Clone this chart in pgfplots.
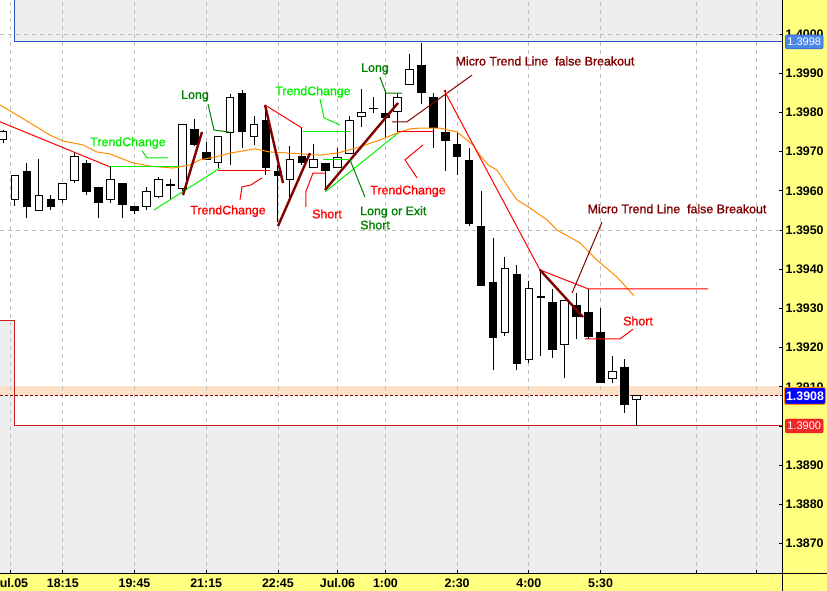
\documentclass[border=0pt]{standalone}
\usepackage{pgfplots}
\pgfplotsset{compat=1.18}
\usepackage{pgfplotstable}
\usepackage{fontspec}
\setmainfont{Liberation Sans}
\newfontfamily\annfont{Liberation Sans}[FakeBold=1.2]

\definecolor{stripyellow}{RGB}{255,255,128}
\definecolor{zonegray}{RGB}{238,238,238}
\definecolor{peach}{RGB}{252,224,200}
\definecolor{lime}{RGB}{0,240,0}
\definecolor{dkgreen}{RGB}{0,128,0}
\definecolor{maroon}{RGB}{128,0,0}
\definecolor{mared}{RGB}{255,0,0}
\definecolor{maorange}{RGB}{255,140,0}
\definecolor{zoneblue}{RGB}{40,80,200}
\definecolor{zonered}{RGB}{200,30,30}
\definecolor{gridgray}{RGB}{190,190,190}
\definecolor{boxblue}{RGB}{74,134,232}
\definecolor{boxred}{RGB}{240,40,40}
\newcommand\lbl{\fontsize{12.4}{14}\selectfont}

\pgfplotsset{
  layers/chart/.define layer set={
    strips, axis background, axis grid, axis ticks, axis lines, axis tick labels,
    pre main, main, axis descriptions, axis foreground
  }{},
}

% 15 min candles, x = bar number (0 = 18:15)
\pgfplotstableread{
x o h l c
-5 1.39730 1.39755 1.39722 1.39750
-4 1.39579 1.39640 1.39561 1.39640
-2 1.39551 1.39681 1.39548 1.39589
0 1.39579 1.39620 1.39569 1.39620
1 1.39628 1.39699 1.39620 1.39689
4 1.39579 1.39661 1.39569 1.39630
7 1.39561 1.39610 1.39551 1.39599
8 1.39587 1.39635 1.39582 1.39630
10 1.39607 1.39770 1.39599 1.39770
13 1.39673 1.39740 1.39658 1.39740
14 1.39750 1.39847 1.39666 1.39839
16 1.39740 1.39791 1.39717 1.39770
19 1.39630 1.39714 1.39584 1.39681
21 1.39661 1.39719 1.39661 1.39681
23 1.39661 1.39709 1.39661 1.39686
24 1.39696 1.39791 1.39696 1.39781
25 1.39791 1.39860 1.39763 1.39801
28 1.39801 1.39849 1.39750 1.39839
29 1.39872 1.39949 1.39872 1.39911
37 1.39240 1.39431 1.39230 1.39401
39 1.39171 1.39370 1.39161 1.39350
42 1.39209 1.39319 1.39122 1.39319
46 1.39120 1.39179 1.39110 1.39140
48 1.39069 1.39079 1.39000 1.39079
}\bull

\pgfplotstableread{
x o h l c
-3 1.39651 1.39671 1.39531 1.39559
-1 1.39579 1.39589 1.39551 1.39559
2 1.39671 1.39679 1.39589 1.39597
3 1.39610 1.39610 1.39531 1.39569
5 1.39620 1.39620 1.39531 1.39566
6 1.39561 1.39561 1.39541 1.39548
9 1.39618 1.39630 1.39579 1.39615
11 1.39760 1.39783 1.39714 1.39719
12 1.39699 1.39724 1.39679 1.39679
15 1.39849 1.39857 1.39709 1.39750
17 1.39781 1.39816 1.39640 1.39658
18 1.39651 1.39666 1.39520 1.39638
20 1.39689 1.39760 1.39666 1.39671
22 1.39671 1.39671 1.39605 1.39651
26 1.39812 1.39839 1.39798 1.39809
27 1.39801 1.39857 1.39737 1.39788
30 1.39921 1.39977 1.39821 1.39849
31 1.39839 1.39849 1.39709 1.39760
32 1.39750 1.39857 1.39651 1.39727
33 1.39719 1.39747 1.39640 1.39686
34 1.39681 1.39709 1.39510 1.39518
35 1.39510 1.39599 1.39357 1.39357
36 1.39370 1.39480 1.39143 1.39227
38 1.39390 1.39411 1.39143 1.39158
40 1.39331 1.39401 1.39179 1.39328
41 1.39319 1.39350 1.39173 1.39196
43 1.39309 1.39339 1.39222 1.39278
44 1.39291 1.39350 1.39222 1.39227
45 1.39240 1.39301 1.39110 1.39110
47 1.39151 1.39171 1.39033 1.39056
}\bear

\pgfplotstableread{
x y
-5.255 1.39819
-3.163 1.39781
-1.071 1.39742
0.017 1.39727
1.690 1.39717
2.862 1.39699
3.950 1.39694
5.874 1.39671
7.297 1.39663
9.222 1.39658
10.644 1.39666
11.481 1.39679
12.736 1.39686
13.992 1.39696
16.084 1.39707
17.339 1.39699
19.013 1.39696
21.523 1.39691
22.946 1.39696
24.870 1.39712
26.544 1.39730
27.967 1.39747
29.054 1.39758
29.891 1.39760
31.565 1.39760
32.987 1.39750
34.326 1.39717
34.910 1.39691
35.580 1.39666
36.330 1.39653
37.420 1.39602
38.008 1.39577
39.096 1.39556
40.519 1.39526
41.356 1.39500
43.280 1.39467
44.703 1.39423
46.377 1.39380
47.799 1.39332
}\ma

\begin{document}
\begin{tikzpicture}[x=1pt,y=1pt]
\begin{axis}[
  at={(0pt,17pt)}, anchor=south west,
  scale only axis, width=782.5pt, height=574pt,
  xmin=-5.255, xmax=60.226, ymin=1.3862245, ymax=1.4008673,
  set layers=chart, clip mode=individual,
  axis x line*=bottom, axis y line*=right,
  axis line style={black, line width=1pt},
  tick align=inside, major tick length=4pt,
  tick style={black, line width=0.8pt},
  xtick={-4.377,0,6,12,18,22.99,27,33,39,45,53,58},
  xticklabels={Jul.05,18:15,19:45,21:15,22:45,Jul.06,1:00,2:30,4:00,5:30,{},{}},
  xmajorgrids,
  grid style={gridgray, dash pattern=on 4pt off 4pt, line width=0.8pt},
  ytick={1.387,1.388,1.389,1.390,1.391,1.392,1.393,1.394,1.395,1.396,1.397,1.398,1.399,1.400},
  scaled y ticks=false,
  ticklabel style={font=\bfseries\lbl, inner sep=0pt},
  yticklabel style={/pgf/number format/fixed, /pgf/number format/fixed zerofill,
    /pgf/number format/precision=4, /pgf/number format/assume math mode=true, xshift=3pt},
  xticklabel style={yshift=-4.5pt},
  extra y ticks={1.395,1.400}, extra y tick labels={},
  extra y tick style={grid=major, major tick length=0pt},
]
% yellow scale strips, under everything
\pgfplotsonlayer{strips}
\fill[stripyellow] (rel axis cs:1,-0.0297) rectangle (rel axis cs:1.057,1);
\fill[stripyellow] (rel axis cs:0,-0.0297) rectangle (rel axis cs:1.057,0);
\endpgfplotsonlayer

% zones
\addplot[on layer=axis background, fill=zonegray, draw=none]
  coordinates {(-4,1.3998) (60.226,1.3998) (60.226,1.4008673) (-4,1.4008673)};
\addplot[on layer=axis background, fill=zonegray, draw=none]
  coordinates {(-5.255,1.3862245) (60.226,1.3862245) (60.226,1.39) (-4,1.39) (-4,1.39268) (-5.255,1.39268)};
\addplot[on layer=axis background, fill=peach, draw=none]
  coordinates {(-5.255,1.39077) (60.226,1.39077) (60.226,1.39102) (-5.255,1.39102)};
\addplot[zoneblue, line width=1pt] coordinates {(-4,1.4008673) (-4,1.3998) (60.226,1.3998)};
\addplot[zonered, line width=1pt] coordinates {(-5.255,1.39268) (-4,1.39268) (-4,1.39) (60.226,1.39)};
\addplot[maroon, line width=0.9pt, dash pattern=on 3pt off 2pt] coordinates {(-5.255,1.39077) (60.226,1.39077)};

% wicks
\addplot[draw=none, mark=none, error bars/.cd, y dir=both, y explicit, error mark=none,
  error bar style={draw=black, solid, line width=1pt}]
  table[x=x, y=c, y error plus expr=\thisrow{h}-\thisrow{c}, y error minus expr=\thisrow{c}-\thisrow{l}] {\bull};
\addplot[draw=none, mark=none, error bars/.cd, y dir=both, y explicit, error mark=none,
  error bar style={draw=black, solid, line width=1pt}]
  table[x=x, y=c, y error plus expr=\thisrow{h}-\thisrow{c}, y error minus expr=\thisrow{c}-\thisrow{l}] {\bear};
% bodies
\addplot[draw=none, mark=none, error bars/.cd, y dir=both, y explicit, error mark=none,
  error bar style={draw=black, solid, line width=8.6pt}]
  table[x=x, y expr=(\thisrow{o}+\thisrow{c})/2, y error expr=abs(\thisrow{o}-\thisrow{c})/2] {\bear};
\addplot[draw=none, mark=none, error bars/.cd, y dir=both, y explicit, error mark=none,
  error bar style={draw=black, solid, line width=8.6pt}]
  table[x=x, y expr=(\thisrow{o}+\thisrow{c})/2, y error expr=abs(\thisrow{o}-\thisrow{c})/2+0.0000128] {\bull};
\addplot[draw=none, mark=none, error bars/.cd, y dir=both, y explicit, error mark=none,
  error bar style={draw=white, solid, line width=6.6pt}]
  table[x=x, y expr=(\thisrow{o}+\thisrow{c})/2, y error expr=abs(\thisrow{o}-\thisrow{c})/2-0.0000128] {\bull};

% moving average
\addplot[maorange, line width=1pt] table[x=x, y=y] {\ma};

% trend lines and leaders
\addplot[mared, line width=1pt] coordinates {(-5.255,1.39776) (3.950,1.39661)};
\addplot[lime, line width=1pt] coordinates {(3.950,1.39661) (9.808,1.39661)};
\addplot[lime, line width=1pt] coordinates {(6.628,1.39702) (7.046,1.39684) (8.803,1.39684)};
\addplot[lime, line width=1pt] coordinates {(7.632,1.39551) (13.155,1.39658)};
\addplot[mared, line width=1pt] coordinates {(12.987,1.39651) (17.339,1.39651)};
\addplot[mared, line width=1pt] coordinates {(14.828,1.39577) (14.996,1.39610) (15.749,1.39615) (16.669,1.39633)};
\addplot[maroon, line width=2.4pt] coordinates {(10.059,1.39589) (11.649,1.39750)};
\addplot[dkgreen, line width=1pt] coordinates {(12.151,1.39821) (12.653,1.39755) (13.908,1.39750)};
\addplot[maroon, line width=2.4pt] coordinates {(16.921,1.39819) (18.427,1.39620)};
\addplot[maroon, line width=2.4pt] coordinates {(18.008,1.39510) (20.686,1.39696)};
\addplot[mared, line width=1pt] coordinates {(16.921,1.39819) (20.017,1.39760)};
\addplot[lime, line width=1pt] coordinates {(20.100,1.39750) (24.033,1.39750)};
\addplot[lime, line width=1pt] coordinates {(21.523,1.39834) (21.858,1.39786) (23.197,1.39768)};
\addplot[mared, line width=1pt] coordinates {(21.941,1.39645) (20.937,1.39645) (20.351,1.39599) (20.351,1.39559)};
\addplot[lime, line width=1pt] coordinates {(21.941,1.39597) (28.050,1.39747)};
\addplot[maroon, line width=2.4pt] coordinates {(21.941,1.39602) (28.050,1.39824)};
\addplot[lime, line width=1pt] coordinates {(21.774,1.39679) (24.033,1.39679)};
\addplot[dkgreen, line width=1pt] coordinates {(24.033,1.39679) (25.289,1.39584)};
\addplot[dkgreen, line width=1pt] coordinates {(26.544,1.39890) (27.046,1.39849) (28.385,1.39849)};
\addplot[maroon, line width=1pt] coordinates {(27.548,1.39776) (28.803,1.39776) (34.243,1.39895)};
\addplot[mared, line width=1pt] coordinates {(28.050,1.39750) (30.979,1.39750)};
\addplot[mared, line width=1pt] coordinates {(30.142,1.39717) (28.636,1.39679) (29.640,1.39633)};
\addplot[mared, line width=1pt] coordinates {(31.900,1.39857) (39.933,1.39398) (43.950,1.39350) (53.992,1.39350)};
\addplot[maroon, line width=2.4pt] coordinates {(39.933,1.39398) (43.531,1.39278)};
\addplot[maroon, line width=1pt] coordinates {(42.611,1.39339) (45.121,1.39520)};
\addplot[mared, line width=1pt] coordinates {(43.699,1.39222) (46.628,1.39222) (47.715,1.39247)};

% texts
\begin{scope}[every node/.style={inner sep=0pt, font=\annfont\lbl}]
\node[text=lime] at (axis cs:5.456,1.39722) {TrendChange};
\node[text=dkgreen] at (axis cs:11.062,1.39842) {Long};
\node[text=lime] at (axis cs:20.937,1.39852) {TrendChange};
\node[text=mared] at (axis cs:13.824,1.39548) {TrendChange};
\node[text=mared] at (axis cs:22.109,1.39541) {Short};
\node[text=dkgreen, anchor=west] at (axis cs:24.870,1.39546) {Long or Exit};
\node[text=dkgreen, anchor=west] at (axis cs:24.870,1.39513) {Short};
\node[text=mared] at (axis cs:28.887,1.39599) {TrendChange};
\node[text=dkgreen] at (axis cs:26.125,1.39911) {Long};
\node[text=maroon] at (axis cs:40.351,1.39931) {Micro Trend Line\ \ false Breakout};
\node[text=maroon] at (axis cs:51.398,1.39554) {Micro Trend Line\ \ false Breakout};
\node[text=mared] at (axis cs:48.134,1.39268) {Short};
\end{scope}

% price labels on the scale
\node[anchor=west, xshift=2.5pt, fill=boxblue, draw=zoneblue, rounded corners=2pt, text=white,
  minimum width=38pt, minimum height=14pt, inner sep=0pt, font=\fontsize{11}{12}\selectfont]
  at (axis cs:60.226,1.3998) {1.3998};
\node[anchor=west, xshift=1.5pt, fill=blue, draw=maorange, line width=1pt, rounded corners=1.5pt, text=white,
  minimum width=41pt, minimum height=17pt, inner sep=0pt, font=\bfseries\lbl]
  at (axis cs:60.226,1.39077) {1.3908};
\node[anchor=west, xshift=2.5pt, fill=boxred, draw=zonered, rounded corners=2pt, text=white,
  minimum width=38pt, minimum height=14pt, inner sep=0pt, font=\fontsize{11}{12}\selectfont]
  at (axis cs:60.226,1.39) {1.3900};
\end{axis}
\draw[black, line width=1pt] (0,17) -- (827,17);
\draw[black, line width=1pt] (782.5,0) -- (782.5,591);
\pgfresetboundingbox
\useasboundingbox (0,0) rectangle (827,591);
\end{tikzpicture}
\end{document}
